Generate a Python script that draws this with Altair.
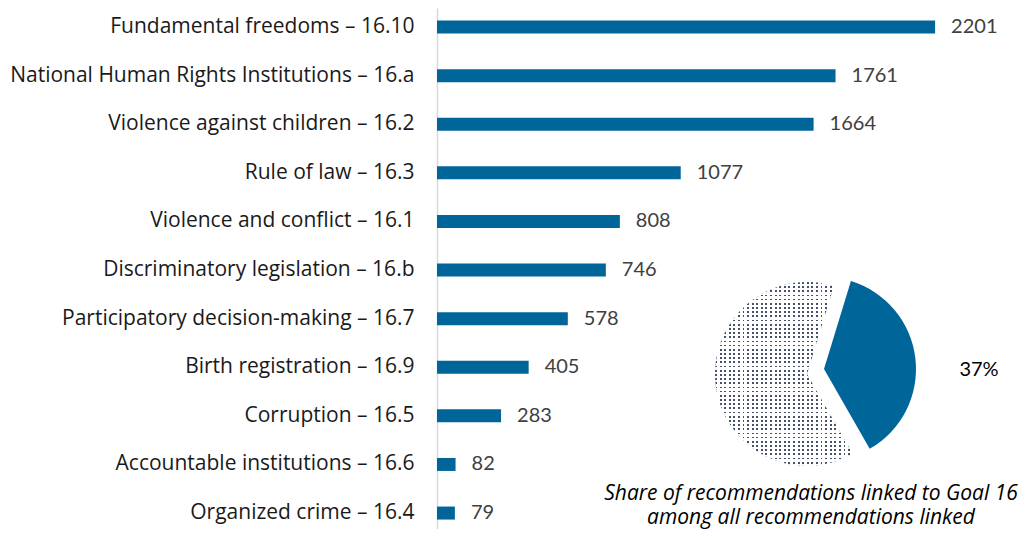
import altair as alt
import pandas as pd

categories = [
    "Fundamental freedoms – 16.10",
    "National Human Rights Institutions – 16.a",
    "Violence against children – 16.2",
    "Rule of law – 16.3",
    "Violence and conflict – 16.1",
    "Discriminatory legislation – 16.b",
    "Participatory decision-making – 16.7",
    "Birth registration – 16.9",
    "Corruption – 16.5",
    "Accountable institutions – 16.6",
    "Organized crime – 16.4",
]
counts = [2201, 1761, 1664, 1077, 808, 746, 578, 405, 283, 82, 79]

pie_groups = ["Goal 16", "Other goals"]
pie_shares = [37, 63]
pie_label = "37%"
caption_lines = ["Share of recommendations linked to Goal 16", "among all recommendations linked"]

FONT = "Open Sans"
NUMFONT = "Lato"
BLUE = "#006699"
DOT = "#46526b"

bars_df = pd.DataFrame({"topic": categories, "count": counts})
pie_df = pd.DataFrame({"group": pie_groups, "share": pie_shares, "order": [0, 1]})

W, H = 566, 521

x_scale = alt.Scale(domain=[0, 2501])
y_enc = alt.Y(
    "topic:N",
    sort=categories,
    scale=alt.Scale(paddingInner=0.7325, paddingOuter=0.226, align=0.57),
    axis=alt.Axis(
        title=None, ticks=False, labelFont=FONT, labelFontSize=21,
        labelColor="#1a1a1a", labelPadding=23, labelLimit=0,
        domainColor="#d9d9d9", domainWidth=1.5, grid=False,
    ),
)

bars = alt.Chart(bars_df).mark_bar(color=BLUE).encode(
    x=alt.X("count:Q", scale=x_scale, axis=None),
    y=y_enc,
)
values = alt.Chart(bars_df).mark_text(
    align="left", baseline="middle", dx=16, font=NUMFONT, fontSize=20, color="#404040"
).encode(
    x=alt.X("count:Q", scale=x_scale, axis=None),
    y=alt.Y("topic:N", sort=categories),
    text=alt.Text("count:Q"),
)

# pie
start = 0.297
two_pi = 6.283185307
theta_scale = alt.Scale(domain=[0, 100], range=[start, start + two_pi])

pie_base = alt.Chart(pie_df).transform_window(
    cum="sum(share)", sort=[alt.SortField("order")]
).transform_calculate(start="datum.cum - datum.share")


def stripes(n, horizontal, on, off, frac=0.5):
    stops = []
    for k in range(n):
        a = k / n
        b = (k + frac) / n
        c = (k + 1) / n
        stops += [
            alt.GradientStop(color=on, offset=a),
            alt.GradientStop(color=on, offset=b),
            alt.GradientStop(color=off, offset=b),
            alt.GradientStop(color=off, offset=c),
        ]
    if horizontal:
        return alt.LinearGradient(gradient="linear", x1=0, y1=0, x2=0, y2=1, stops=stops)
    return alt.LinearGradient(gradient="linear", x1=0, y1=0, x2=1, y2=0, stops=stops)


other_center = dict(x=alt.value(370), y=alt.value(366))
goal_center = dict(x=alt.value(387), y=alt.value(361))
R = 92

other = pie_base.transform_filter("datum.group == 'Other goals'")
other_a = other.mark_arc(radius=R, fill=stripes(30, False, DOT, "#ffffff", 0.42)).encode(
    theta=alt.Theta("start:Q", scale=theta_scale, stack=None),
    theta2="cum:Q",
    **other_center,
)
other_b = other.mark_arc(radius=R, fill=stripes(44, True, "rgba(255,255,255,0)", "#ffffff", 0.42)).encode(
    theta=alt.Theta("start:Q", scale=theta_scale, stack=None),
    theta2="cum:Q",
    **other_center,
)
goal = pie_base.transform_filter("datum.group == 'Goal 16'").mark_arc(
    radius=R, color=BLUE
).encode(
    theta=alt.Theta("start:Q", scale=theta_scale, stack=None),
    theta2="cum:Q",
    **goal_center,
)

pct = alt.Chart(pd.DataFrame({"t": [pie_label]})).mark_text(
    font=NUMFONT, fontSize=20, color="#000000", align="center", baseline="middle"
).encode(x=alt.value(542), y=alt.value(362), text="t:N")

cap = alt.Chart(pd.DataFrame({"t": ["\n".join(caption_lines)]})).mark_text(
    font=FONT, fontSize=21, fontStyle="italic", color="#000000", align="center",
    baseline="middle", lineBreak="\n", lineHeight=24,
).encode(x=alt.value(374), y=alt.value(486), text="t:N")

chart = alt.layer(bars, values, other_a, other_b, goal, pct, cap).properties(
    width=W, height=H,
    autosize=alt.AutoSizeParams(type="none"),
    padding={"left": 429, "top": 0, "right": 24, "bottom": 0},
).configure_view(stroke=None)

chart.save("out.html", embed_options={"renderer": "svg", "actions": False})
